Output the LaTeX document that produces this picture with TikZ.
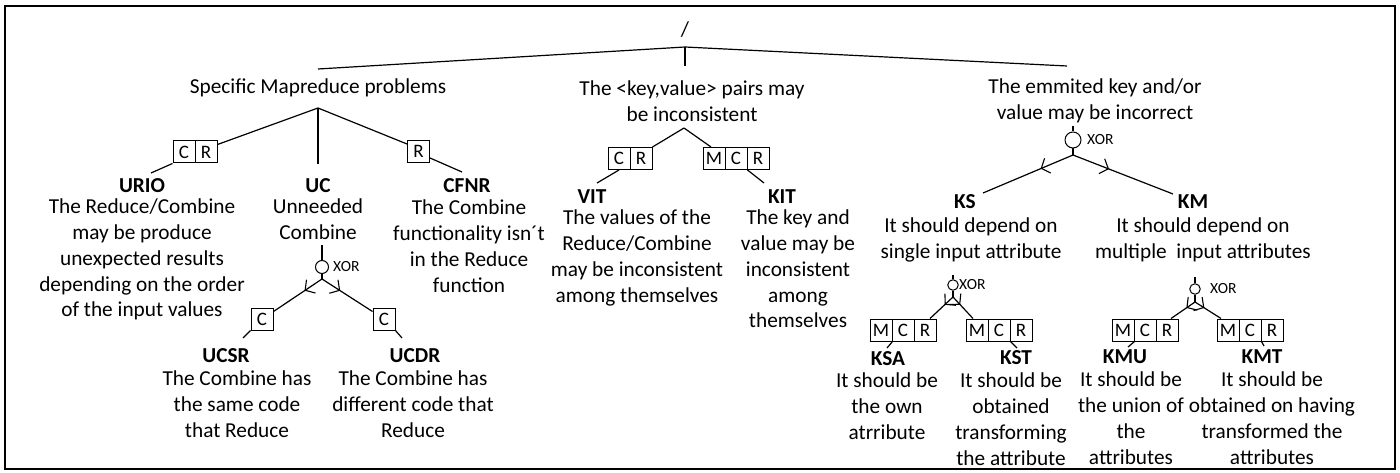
\documentclass[tikz,border=0pt]{standalone}
\usepackage{fontspec}
\setmainfont{Carlito}
\usetikzlibrary{arrows.meta,decorations.markings}
\begin{document}
\begin{tikzpicture}[x=1pt,y=-1pt,
  txt/.style={inner sep=0pt, align=center, font=\fontsize{21.3}{25.7}\selectfont},
  blk/.style={txt, anchor=north},
  lbl/.style={inner sep=0pt, font=\fontsize{21.3}{25.5}\selectfont\bfseries},
  cell/.style={draw, line width=1pt, minimum width=22pt, minimum height=22pt, inner sep=0pt, font=\fontsize{19}{19}\selectfont},
  xc/.style={circle, draw, line width=1pt, inner sep=0pt},
  xt/.style={inner sep=0pt, anchor=west, font=\fontsize{15.5}{16}\selectfont},
  edge/.style={line width=1.2pt},
  xbr/.style={edge, postaction={decorate}, decoration={markings,
     mark=at position 0.36 with {\arrow[line width=1.1pt]{Straight Barb[length=7pt,width=16pt]}}}}
]
\useasboundingbox (0,0) rectangle (1400,473);
\draw[line width=2.2pt] (5,6) rectangle (1395,469);

% root
\node[txt] (root) at (685,30) {/};
\coordinate (rj) at (685,47);

% level 1
\node[blk] (smp) at (318,79) {Specific Mapreduce problems};
\node[blk] (kvp) at (692,81) {The <key,value> pairs may\\be inconsistent};
\node[blk] (ekv) at (1095,79) {The emmited key and/or\\value may be incorrect};
\coordinate (smpT) at (318,69);
\coordinate (kvpT) at (685,66);
\coordinate (ekvT) at (1067,66);
\draw[edge] (smpT) -- (rj) -- (ekvT);
\draw[edge] (rj) -- (kvpT);

% ---------- left subtree
\coordinate (smpj) at (318,108);
\node[cell] (urioC) at (184,152) {C};
\node[cell] (urioR) at (206,152) {R};
\node[cell] (cfnrR) at (418.5,151.5) {R};
\coordinate (urioT) at (151,173);
\coordinate (ucT) at (318,164);
\coordinate (cfnrT) at (462,172);
\draw[edge] (smpj) -- ([yshift=-4pt]urioR.north east);
\draw[edge] (urioC.south west) -- (urioT);
\draw[edge] (smpj) -- (ucT);
\draw[edge] (smpj) -- ([yshift=-4pt]cfnrR.north west);
\draw[edge] ([yshift=5pt]cfnrR.south east) -- (cfnrT);

\node[lbl] (urio) at (142,186) {URIO};
\node[blk] (uriot) at (142,199) {The Reduce/Combine\\may be produce\\unexpected results\\depending on the order\\of the input values};
\node[lbl] (uc) at (318,186) {UC};
\node[blk] (uct) at (318,199) {Unneeded\\Combine};
\node[lbl] (cfnr) at (467,186) {CFNR};
\node[blk] (cfnrt) at (469,200) {The Combine\\functionality isn´t\\in the Reduce\\function};

% UC xor
\node[xc, minimum size=13pt] (ucx) at (322,267) {};
\node[xt] (ucxt) at (333,267) {XOR};
\coordinate (ucS) at (322,245);
\coordinate (ucj) at (322,279);
\draw[edge] (ucS) -- (ucx.north);
\draw[edge] (ucx.south) -- (ucj);
\node[cell] (ucsrC) at (262,319) {C};
\node[cell] (ucdrC) at (384,319) {C};
\draw[xbr] (ucj) -- ([yshift=-4pt]ucsrC.north east);
\draw[xbr] (ucj) -- ([yshift=-4pt]ucdrC.north west);
\coordinate (ucsrT) at (243,338);
\coordinate (ucdrT) at (402,338);
\draw[edge] (ucsrC.south west) -- (ucsrT);
\draw[edge] (ucdrC.south east) -- (ucdrT);
\node[lbl] (ucsr) at (226,356) {UCSR};
\node[blk] (ucsrt) at (237,371) {The Combine has\\the same code\\that Reduce};
\node[lbl] (ucdr) at (415,356) {UCDR};
\node[blk] (ucdrt) at (413,371) {The Combine has\\different code that\\Reduce};

% ---------- middle subtree
\coordinate (kvpj) at (684,128);
\node[cell] (vitC) at (619,158.5) {C};
\node[cell] (vitR) at (641,158.5) {R};
\node[cell] (kitM) at (714,158.5) {M};
\node[cell] (kitC) at (736,158.5) {C};
\node[cell] (kitR) at (758,158.5) {R};
\draw[edge] (kvpj) -- (vitR.north east);
\draw[edge] (kvpj) -- ([xshift=-3pt]kitM.north);
\coordinate (vitT) at (597,183);
\coordinate (kitT) at (764,183);
\draw[edge] (vitC.south) -- (vitT);
\draw[edge] (kitC.south east) -- (kitT);
\node[lbl] (vit) at (592,197) {VIT};
\node[blk] (vitt) at (637,210) {The values of the\\Reduce/Combine\\may be inconsistent\\among themselves};
\node[lbl] (kit) at (782,197) {KIT};
\node[blk] (kitt) at (798,210) {The key and\\value may be\\inconsistent\\among\\themselves};

% ---------- right subtree
\coordinate (ekvS) at (1073,126);
\node[xc, minimum size=16pt] (ekvx) at (1073,140) {};
\node[xt] (ekvxt) at (1087,140) {XOR};
\coordinate (ekvj) at (1073,155);
\draw[edge] (ekvS) -- (ekvx.north);
\draw[edge] (ekvx.south) -- (ekvj);
\coordinate (ksT) at (983,193);
\coordinate (kmT) at (1173,194);
\draw[xbr] (ekvj) -- (ksT);
\draw[xbr] (ekvj) -- (kmT);
\node[lbl] (ks) at (965,202) {KS};
\node[blk] (kst) at (971,218) {It should depend on\\single input attribute};
\node[lbl] (km) at (1193,202) {KM};
\node[blk] (kmt) at (1203,218) {It should depend on\\multiple\ \ input attributes};

% KS xor
\coordinate (ksS) at (953,275);
\node[xc, minimum size=10.5pt] (ksx) at (953,285) {};
\node[xt] (ksxt) at (959,285) {XOR};
\coordinate (ksj) at (953,297);
\draw[edge] (ksS) -- (ksx.north);
\draw[edge] (ksx.south) -- (ksj);
\node[cell] (ksaM) at (881,330) {M};
\node[cell] (ksaC) at (903,330) {C};
\node[cell] (ksaR) at (925,330) {R};
\node[cell] (kstM) at (977,330) {M};
\node[cell] (kstC) at (999,330) {C};
\node[cell] (kstR) at (1021,330) {R};
\draw[xbr] (ksj) -- ([xshift=5pt]ksaR.north);
\draw[xbr] (ksj) -- ([xshift=-4pt]kstM.north);
\coordinate (ksaT) at (887,348);
\coordinate (kstT) at (1017,348);
\draw[edge] (ksaM.south east) -- (ksaT);
\draw[edge] (kstC.south east) -- (kstT);
\node[lbl] (ksa) at (888,359) {KSA};
\node[blk] (ksat) at (887,373) {It should be\\the own\\atrribute};
\node[lbl] (kstl) at (1016,358) {KST};
\node[blk] (kstt) at (1011,373) {It should be\\obtained\\transforming\\the attribute};

% KM xor
\coordinate (kmS) at (1195,277);
\node[xc, minimum size=10.5pt] (kmx) at (1195,289) {};
\node[xt] (kmxt) at (1210,289) {XOR};
\coordinate (kmj) at (1195,302);
\draw[edge] (kmS) -- (kmx.north);
\draw[edge] (kmx.south) -- (kmj);
\node[cell] (kmuM) at (1123,330) {M};
\node[cell] (kmuC) at (1145,330) {C};
\node[cell] (kmuR) at (1167,330) {R};
\node[cell] (kmtM) at (1228,330) {M};
\node[cell] (kmtC) at (1250,330) {C};
\node[cell] (kmtR) at (1272,330) {R};
\draw[xbr] (kmj) -- ([xshift=4pt]kmuR.north);
\draw[xbr] (kmj) -- ([xshift=-7pt]kmtM.north);
\coordinate (kmuT) at (1128,347);
\coordinate (kmtT) at (1264,346);
\draw[edge] (kmuM.south east) -- (kmuT);
\draw[edge] (kmtC.south east) -- (kmtT);
\node[lbl] (kmu) at (1125,357) {KMU};
\node[blk] (kmut) at (1131,372) {It should be\\the union of\\the\\attributes};
\node[lbl] (kmtl) at (1262,357) {KMT};
\node[blk] (kmtt) at (1272,372) {It should be\\obtained on having\\transformed the\\attributes};
\end{tikzpicture}
\end{document}
